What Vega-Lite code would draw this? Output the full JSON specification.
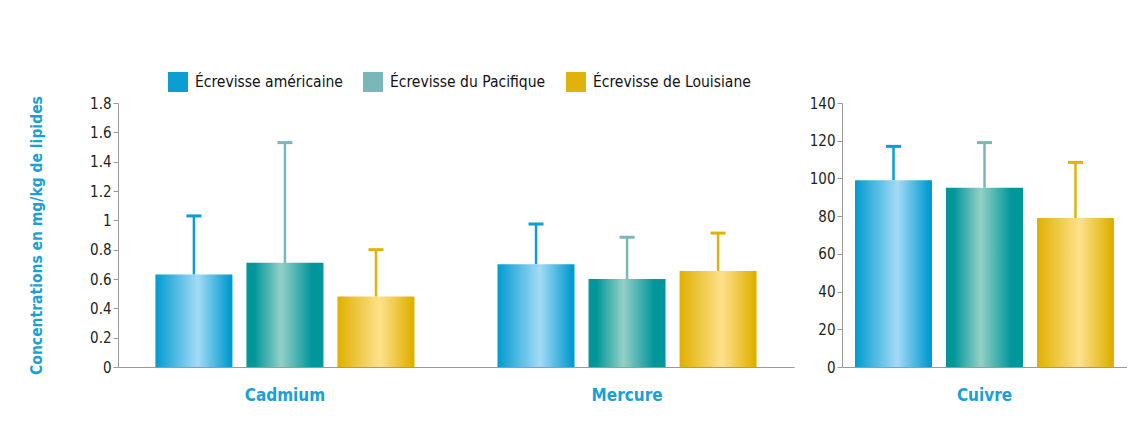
{
  "$schema": "https://vega.github.io/schema/vega-lite/v6.json",
  "padding": {"left": 29, "top": 72, "right": 0, "bottom": 0},
  "background": "white",
  "data": {"values": [
    {"metal": "Cadmium", "species": "Écrevisse américaine", "value": 0.63, "err": 1.03},
    {"metal": "Cadmium", "species": "Écrevisse du Pacifique", "value": 0.71, "err": 1.53},
    {"metal": "Cadmium", "species": "Écrevisse de Louisiane", "value": 0.48, "err": 0.80},
    {"metal": "Mercure", "species": "Écrevisse américaine", "value": 0.70, "err": 0.975},
    {"metal": "Mercure", "species": "Écrevisse du Pacifique", "value": 0.60, "err": 0.885},
    {"metal": "Mercure", "species": "Écrevisse de Louisiane", "value": 0.655, "err": 0.913},
    {"metal": "Cuivre", "species": "Écrevisse américaine", "value": 99, "err": 117},
    {"metal": "Cuivre", "species": "Écrevisse du Pacifique", "value": 95, "err": 119},
    {"metal": "Cuivre", "species": "Écrevisse de Louisiane", "value": 79, "err": 108.5}
  ]},
  "hconcat": [
    {
      "width": 676,
      "height": 264,
      "transform": [{"filter": "datum.metal !== 'Cuivre'"}],
      "encoding": {
        "x": {"field": "metal", "type": "nominal", "sort": ["Cadmium", "Mercure"],
              "scale": {"paddingInner": 0.024, "paddingOuter": 0},
              "axis": {"title": null, "ticks": false, "labelAngle": 0, "labelPadding": 20, "labelFontSize": 17, "labelFontWeight": "bold", "labelColor": "#1a9fd6"}},
        "xOffset": {"field": "species", "type": "nominal", "sort": ["Écrevisse américaine", "Écrevisse du Pacifique", "Écrevisse de Louisiane"],
                    "scale": {"paddingInner": 0.154, "paddingOuter": 0.411}}
      },
      "layer": [
        {
          "mark": {"type": "rule", "strokeWidth": 2.5},
          "encoding": {
            "y": {"field": "value", "type": "quantitative",
                  "scale": {"domain": [0, 1.8], "nice": false},
                  "axis": {"title": "Concentrations en mg/kg de lipides", "values": [0, 0.2, 0.4, 0.6, 0.8, 1, 1.2, 1.4, 1.6, 1.8], "tickCount": 10, "format": "~g", "titlePadding": 45, "titleFontSize": 15.5, "titleFontWeight": "bold", "titleColor": "#1a9fd6"}},
            "y2": {"field": "err"},
            "color": {"field": "species", "type": "nominal",
                      "scale": {"domain": ["Écrevisse américaine", "Écrevisse du Pacifique", "Écrevisse de Louisiane"], "range": ["#0a9ed2", "#7ab7bb", "#e2b20c"]},
                      "legend": {"title": null, "orient": "none", "direction": "horizontal", "legendX": 50, "legendY": -31, "symbolType": "square", "symbolSize": 400, "symbolStrokeWidth": 0, "symbolOpacity": 1, "labelFontSize": 15.5, "labelColor": "#111111", "labelOffset": 7, "columnPadding": 20,
                                 "encoding": {"symbols": {
                                   "opacity": {"value": 1},
                                   "strokeWidth": {"value": 0},
                                   "fill": {"condition": [
                                     {"test": "datum.value === 'Écrevisse américaine'", "value": {"gradient": "linear", "x1": 0, "y1": 0, "x2": 1, "y2": 0, "stops": [{"offset": 0, "color": "#009bd0"}, {"offset": 0.6, "color": "#a4daf6"}, {"offset": 1, "color": "#5bb8e4"}]}},
                                     {"test": "datum.value === 'Écrevisse du Pacifique'", "value": {"gradient": "linear", "x1": 0, "y1": 0, "x2": 1, "y2": 0, "stops": [{"offset": 0, "color": "#00969a"}, {"offset": 0.6, "color": "#95d0c6"}, {"offset": 1, "color": "#2fa7a6"}]}}
                                   ],
                                   "value": {"gradient": "linear", "x1": 0, "y1": 0, "x2": 1, "y2": 0, "stops": [{"offset": 0, "color": "#dfb000"}, {"offset": 0.6, "color": "#fee18c"}, {"offset": 1, "color": "#ecc030"}]}}
                                 }}}}
          }
        },
        {
          "mark": {"type": "tick", "size": 15, "thickness": 3, "opacity": 1},
          "encoding": {
            "y": {"field": "err", "type": "quantitative",
                  "axis": {"title": "Concentrations en mg/kg de lipides", "values": [0, 0.2, 0.4, 0.6, 0.8, 1, 1.2, 1.4, 1.6, 1.8], "tickCount": 10, "format": "~g", "titlePadding": 45, "titleFontSize": 15.5, "titleFontWeight": "bold", "titleColor": "#1a9fd6"}},
            "color": {"field": "species", "type": "nominal", "legend": null}
          }
        },
        {
          "mark": {"type": "bar"},
          "encoding": {
            "y": {"field": "value", "type": "quantitative",
                  "axis": {"title": "Concentrations en mg/kg de lipides", "values": [0, 0.2, 0.4, 0.6, 0.8, 1, 1.2, 1.4, 1.6, 1.8], "tickCount": 10, "format": "~g", "titlePadding": 45, "titleFontSize": 15.5, "titleFontWeight": "bold", "titleColor": "#1a9fd6"}},
            "fill": {"condition": [
                {"test": "datum.species === 'Écrevisse américaine'", "value": {"gradient": "linear", "x1": 0, "y1": 0, "x2": 1, "y2": 0, "stops": [{"offset": 0, "color": "#009bd0"}, {"offset": 0.55, "color": "#a4daf6"}, {"offset": 0.97, "color": "#009bd0"}, {"offset": 1, "color": "#009bd0"}]}},
                {"test": "datum.species === 'Écrevisse du Pacifique'", "value": {"gradient": "linear", "x1": 0, "y1": 0, "x2": 1, "y2": 0, "stops": [{"offset": 0, "color": "#00969a"}, {"offset": 0.1, "color": "#00969a"}, {"offset": 0.45, "color": "#95d0c6"}, {"offset": 0.85, "color": "#00969a"}, {"offset": 1, "color": "#00969a"}]}}
              ],
              "value": {"gradient": "linear", "x1": 0, "y1": 0, "x2": 1, "y2": 0, "stops": [{"offset": 0, "color": "#dfb000"}, {"offset": 0.55, "color": "#fee18c"}, {"offset": 0.97, "color": "#dfb000"}, {"offset": 1, "color": "#dfb000"}]}}
          }
        }
      ]
    },
    {
      "width": 285,
      "height": 264,
      "transform": [{"filter": "datum.metal === 'Cuivre'"}],
      "encoding": {
        "x": {"field": "metal", "type": "nominal",
              "scale": {"paddingInner": 0, "paddingOuter": 0},
              "axis": {"title": null, "ticks": false, "labelAngle": 0, "labelPadding": 20, "labelFontSize": 17, "labelFontWeight": "bold", "labelColor": "#1a9fd6"}},
        "xOffset": {"field": "species", "type": "nominal", "sort": ["Écrevisse américaine", "Écrevisse du Pacifique", "Écrevisse de Louisiane"],
                    "scale": {"paddingInner": 0.154, "paddingOuter": 0.143}}
      },
      "layer": [
        {
          "mark": {"type": "rule", "strokeWidth": 2.5},
          "encoding": {
            "y": {"field": "value", "type": "quantitative",
                  "scale": {"domain": [0, 140], "nice": false},
                  "axis": {"title": null, "values": [0, 20, 40, 60, 80, 100, 120, 140], "tickCount": 8}},
            "y2": {"field": "err"},
            "color": {"field": "species", "type": "nominal", "legend": null}
          }
        },
        {
          "mark": {"type": "tick", "size": 15, "thickness": 3, "opacity": 1},
          "encoding": {
            "y": {"field": "err", "type": "quantitative",
                  "axis": {"title": null, "values": [0, 20, 40, 60, 80, 100, 120, 140], "tickCount": 8}},
            "color": {"field": "species", "type": "nominal", "legend": null}
          }
        },
        {
          "mark": {"type": "bar"},
          "encoding": {
            "y": {"field": "value", "type": "quantitative",
                  "axis": {"title": null, "values": [0, 20, 40, 60, 80, 100, 120, 140], "tickCount": 8}},
            "fill": {"condition": [
                {"test": "datum.species === 'Écrevisse américaine'", "value": {"gradient": "linear", "x1": 0, "y1": 0, "x2": 1, "y2": 0, "stops": [{"offset": 0, "color": "#009bd0"}, {"offset": 0.55, "color": "#a4daf6"}, {"offset": 0.97, "color": "#009bd0"}, {"offset": 1, "color": "#009bd0"}]}},
                {"test": "datum.species === 'Écrevisse du Pacifique'", "value": {"gradient": "linear", "x1": 0, "y1": 0, "x2": 1, "y2": 0, "stops": [{"offset": 0, "color": "#00969a"}, {"offset": 0.1, "color": "#00969a"}, {"offset": 0.45, "color": "#95d0c6"}, {"offset": 0.85, "color": "#00969a"}, {"offset": 1, "color": "#00969a"}]}}
              ],
              "value": {"gradient": "linear", "x1": 0, "y1": 0, "x2": 1, "y2": 0, "stops": [{"offset": 0, "color": "#dfb000"}, {"offset": 0.55, "color": "#fee18c"}, {"offset": 0.97, "color": "#dfb000"}, {"offset": 1, "color": "#dfb000"}]}}
          }
        }
      ]
    }
  ],
  "spacing": 15,
  "resolve": {"scale": {"x": "independent", "y": "independent", "xOffset": "independent", "color": "shared"}},
  "config": {
    "font": "Liberation Sans Narrow, DejaVu Sans Condensed, sans-serif",
    "view": {"stroke": null},
    "axis": {"grid": false, "domainColor": "#9a9a9a", "tickColor": "#9a9a9a", "labelColor": "#231f20", "labelFontSize": 15, "labelFont": "Liberation Sans Narrow, DejaVu Sans Condensed, sans-serif", "titleFont": "Liberation Sans Narrow, DejaVu Sans Condensed, sans-serif", "tickSize": 5, "labelOverlap": false},
    "legend": {"labelFont": "Liberation Sans Narrow, DejaVu Sans Condensed, sans-serif"}
  }
}
